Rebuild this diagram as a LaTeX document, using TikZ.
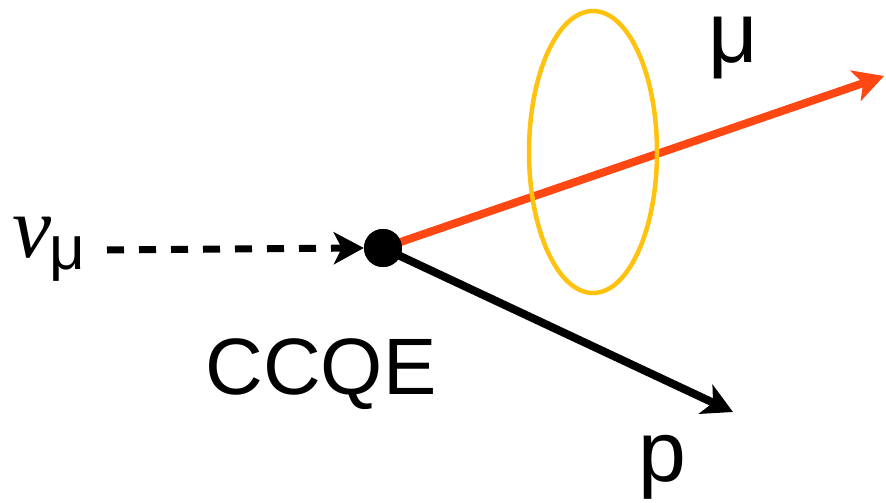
\documentclass[tikz,border=0pt]{standalone}
\usepackage{fontspec}
\setmainfont{Liberation Sans}
\newfontfamily\serifit{Liberation Serif}
\usetikzlibrary{arrows.meta}
\definecolor{mured}{HTML}{FF4713}
\definecolor{ringgold}{HTML}{FFC20E}
\tikzset{
  lbl/.style={inner sep=0pt, text=black},
  bigtip/.style={-{Stealth[length=30pt, width=32pt, inset=8pt]}},
}
\begin{document}
\begin{tikzpicture}[x=1pt, y=-1pt]
\useasboundingbox (0,0) rectangle (886,503);
\coordinate (mutip) at (884,76);
\coordinate (ptip) at (733,412);
\node[circle, fill=black, minimum size=38pt, inner sep=0pt] (v) at (383,248) {};
\draw[mured, line width=8pt, bigtip] (v.center) -- (mutip);
\draw[black, line width=8pt, bigtip] (v.center) -- (ptip);
\node[circle, fill=black, minimum size=38pt, inner sep=0pt] at (v) {};
\draw[ringgold, line width=4.5pt] (593,152) ellipse [x radius=64, y radius=141];
\node[lbl, anchor=base west] (nu) at (12,257) {\fontsize{88}{88}\selectfont\serifit\itshape ν\kern-2pt\raisebox{-12pt}{\fontsize{62}{62}\selectfont\normalfont μ}};
\draw[black, line width=7pt, dash pattern=on 17pt off 15pt, bigtip] (107,250) -- (v.west);
\node[lbl] (ccqe) at (321,374) {\fontsize{80}{80}\selectfont CCQE};
\node[lbl] (mu) at (733,48) {\fontsize{86}{86}\selectfont μ};
\node[lbl] (p) at (662,467) {\fontsize{86}{86}\selectfont p};
\end{tikzpicture}
\end{document}
